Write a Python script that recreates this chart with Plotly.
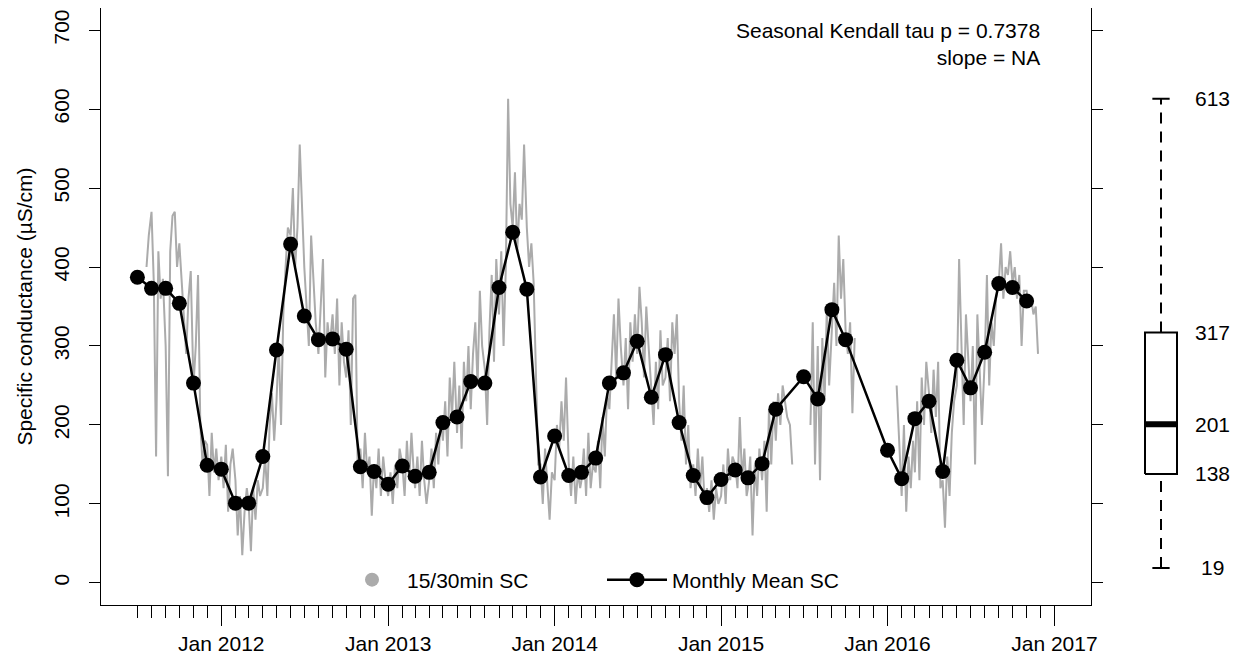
import plotly.graph_objects as go
import pandas as pd

# ---------------- data ----------------
monthly_dates = [
    "2011-07-01", "2011-08-01", "2011-09-01", "2011-10-01", "2011-11-01", "2011-12-01",
    "2012-01-01", "2012-02-01", "2012-03-01", "2012-04-01", "2012-05-01", "2012-06-01",
    "2012-07-01", "2012-08-01", "2012-09-01", "2012-10-01", "2012-11-01", "2012-12-01",
    "2013-01-01", "2013-02-01", "2013-03-01", "2013-04-01", "2013-05-01", "2013-06-01",
    "2013-07-01", "2013-08-01", "2013-09-01", "2013-10-01", "2013-11-01", "2013-12-01",
    "2014-01-01", "2014-02-01", "2014-03-01", "2014-04-01", "2014-05-01", "2014-06-01",
    "2014-07-01", "2014-08-01", "2014-09-01", "2014-10-01", "2014-11-01", "2014-12-01",
    "2015-01-01", "2015-02-01", "2015-03-01", "2015-04-01", "2015-05-01",
    "2015-07-01", "2015-08-01", "2015-09-01", "2015-10-01",
    "2016-01-01", "2016-02-01", "2016-03-01", "2016-04-01", "2016-05-01", "2016-06-01",
    "2016-07-01", "2016-08-01", "2016-09-01", "2016-10-01", "2016-11-01",
]
monthly_sc = [
    387, 373, 373, 354, 253, 149,
    144, 101, 101, 160, 295, 429,
    338, 308, 309, 296, 147, 141,
    125, 148, 135, 140, 203, 210,
    255, 253, 374, 444, 372, 134,
    186, 136, 140, 158, 253, 266,
    306, 235, 289, 203, 136, 108,
    131, 143, 133, 151, 220,
    261, 233, 346, 308,
    168, 132, 208, 230, 141, 282,
    247, 292, 379, 374, 357,
]

# 15/30-min record, read roughly every 5 days (days 1, 6, 11, 16, 21, 26 of each month)
gray_days = [1, 6, 11, 16, 21, 26]
gray_2011 = [  # Jul .. Dec 2011
    None, None, None, None, 400, 440,
    470, 380, 160, 420, 360, 385,
    300, 135, 420, 465, 470, 400,
    430, 380, 330, 290, 360, 395,
    250, 300, 390, 200, 150, 180,
    175, 110, 190, 140, 170, 130,
]
gray_2012 = [
    160, 120, 175, 90, 150, 170,
    130, 60, 110, 35, 90, 120,
    100, 40, 120, 80, 130, 110,
    120, 160, 110, 200, 240, 180,
    230, 300, 200, 340, 400, 450,
    440, 500, 400, 450, 555, 480,
    400, 350, 300, 440, 380, 330,
    290, 360, 410, 260, 330, 300,
    340, 290, 360, 250, 330, 280,
    260, 320, 200, 360, 365, 150,
    170, 120, 190, 140, 160, 85,
    150, 120, 170, 110, 160, 130,
]
gray_2013 = [
    110, 140, 100, 150, 120, 170,
    150, 110, 180, 130, 190, 140,
    120, 160, 110, 180, 130, 100,
    130, 170, 120, 190, 150, 210,
    180, 230, 160, 260, 210, 280,
    190, 250, 170, 280, 230, 300,
    220, 290, 330, 250, 370, 300,
    270, 200, 320, 390, 280, 410,
    340, 420, 300, 400, 613, 480,
    450, 520, 420, 480, 460, 555,
    450, 400, 430, 380, 250, 150,
    150, 100, 170, 120, 80, 140,
]
gray_2014 = [
    130, 200, 170, 230, 180, 260,
    150, 110, 160, 100, 140, 120,
    130, 170, 110, 190, 120, 150,
    140, 180, 120, 210, 160, 240,
    220, 280, 340, 260, 360, 300,
    250, 310, 220, 330, 280, 340,
    290, 375, 330, 260, 350, 300,
    250, 200, 280, 220, 320, 250,
    260, 310, 230, 330, 290, 340,
    230, 180, 250, 150, 200, 120,
    150, 110, 170, 120, 160, 100,
    120, 90, 130, 80, 120, 100,
]
gray_2015 = [
    110, 150, 100, 170, 130, 160,
    150, 120, 210, 130, 170, 110,
    120, 160, 60, 150, 110, 170,
    130, 180, 90, 220, 150, 230,
    180, 240, 200, 250, 230, 210,
    200, 150, None, None, None, None,
    None, None, None, 200, 330, 150,
    300, 130, 310, 230, 350, 250,
    330, 380, 300, 440, 360, 410,
    320, 290, 330, 215, 310, None,
    None, None, None, None, None, None,
    None, None, None, None, None, None,
]
gray_2016 = [  # Jan .. Nov 2016
    None, None, None, None, 250, 180,
    110, 200, 90, 160, 120, 180,
    140, 230, 130, 260, 200, 280,
    240, 190, 270, 210, 280, 120,
    130, 70, 160, 110, 190, 230,
    250, 410, 300, 200, 340, 280,
    230, 300, 150, 340, 260, 200,
    280, 390, 250, 330, 300, 360,
    380, 430, 360, 400, 390, 420,
    380, 400, 360, 390, 300, 370,
    370, 350, 360, 340, 350, 290,
]

box_stats = [19, 138, 201, 317, 613]          # min, Q1, median, Q3, max
box_labels = ["19", "138", "201", "317", "613"]
y_ticks = [0, 100, 200, 300, 400, 500, 600, 700]
x_major = ["2012-01-01", "2013-01-01", "2014-01-01", "2015-01-01", "2016-01-01", "2017-01-01"]
x_major_labels = ["Jan 2012", "Jan 2013", "Jan 2014", "Jan 2015", "Jan 2016", "Jan 2017"]
annotation_text = "Seasonal Kendall tau p = 0.7378<br>slope = NA"

# ---------------- build gray series x ----------------
gray_x, gray_y = [], []
for start, vals in [("2011-07", gray_2011), ("2012-01", gray_2012), ("2013-01", gray_2013),
                    ("2014-01", gray_2014), ("2015-01", gray_2015), ("2016-01", gray_2016)]:
    months = pd.period_range(start=start, periods=len(vals) // len(gray_days), freq="M")
    k = 0
    for m in months:
        for d in gray_days:
            gray_x.append(f"{m.year:04d}-{m.month:02d}-{d:02d}")
            gray_y.append(vals[k])
            k += 1

minor_ticks = [d.strftime("%Y-%m-%d") for d in pd.date_range("2011-07-01", "2016-12-01", freq="MS")
               if d.month != 1]

FONT = "Liberation Sans, Arial, sans-serif"
FS = 21
GRAY = "#ABABAB"

fig = go.Figure()

fig.add_trace(go.Scatter(x=gray_x, y=gray_y, mode="lines", line=dict(color=GRAY, width=2),
                         connectgaps=False, showlegend=False, hoverinfo="skip"))
fig.add_trace(go.Scatter(x=[None], y=[None], mode="markers", name="15/30min SC",
                         marker=dict(color=GRAY, size=14)))
fig.add_trace(go.Scatter(x=monthly_dates, y=monthly_sc, mode="lines+markers", name="Monthly Mean SC",
                         line=dict(color="black", width=2.5),
                         marker=dict(color="black", size=15)))

# ---------------- boxplot on side axis ----------------
mn, q1, med, q3, mx = box_stats
bw, cw = 0.5, 0.27
box_line = dict(color="black", width=2)
fig.add_trace(go.Scatter(x=[-bw, bw, bw, -bw, -bw], y=[q1, q1, q3, q3, q1], mode="lines",
                         line=box_line, xaxis="x2", yaxis="y", showlegend=False, hoverinfo="skip"))
fig.add_trace(go.Scatter(x=[-bw, bw], y=[med, med], mode="lines", line=dict(color="black", width=6),
                         xaxis="x2", yaxis="y", showlegend=False, hoverinfo="skip"))
for a, b in [(q3, mx), (mn, q1)]:
    fig.add_trace(go.Scatter(x=[0, 0], y=[a, b], mode="lines",
                             line=dict(color="black", width=2, dash="11px,8px"),
                             xaxis="x2", yaxis="y", showlegend=False, hoverinfo="skip"))
for v in [mn, mx]:
    fig.add_trace(go.Scatter(x=[-cw, cw], y=[v, v], mode="lines", line=box_line,
                             xaxis="x2", yaxis="y", showlegend=False, hoverinfo="skip"))

annotations = [dict(xref="x2", yref="y", x=1.6, y=v, text=t, showarrow=False,
                    font=dict(size=FS, color="black", family=FONT))
               for v, t in zip(box_stats, box_labels)]

# ---------------- layout (page body adds an 8px offset) ----------------
OFF = 8
W, H = 1244 - OFF, 656 - OFF
L, R_MAIN, T, B = 101 - OFF, 1091 - OFF, 8 - OFF, 605 - OFF
MR = 8
pw = W - L - MR
ph = B - T
BX0 = 1129 - OFF          # left of side-axis domain (x2 = -1)
UNIT = 32                 # px per x2 unit

annotations.append(dict(xref="paper", yref="paper", x=(1042 - OFF - L) / pw, y=(B - (17 - OFF)) / ph,
                        xanchor="right", yanchor="top", align="right", showarrow=False,
                        text=annotation_text, font=dict(size=FS, color="black", family=FONT)))

fig.update_layout(
    width=W, height=H,
    margin=dict(l=L, r=MR, t=T, b=H - B, pad=0),
    paper_bgcolor="white", plot_bgcolor="white",
    font=dict(family=FONT, size=FS, color="black"),
    showlegend=True,
    legend=dict(orientation="h", x=(337 - OFF - L) / pw, y=(B - (580 - OFF)) / ph,
                xanchor="left", yanchor="middle",
                itemwidth=60, entrywidth=190, bgcolor="rgba(0,0,0,0)",
                font=dict(size=FS, color="black", family=FONT)),
    annotations=annotations,
    xaxis=dict(domain=[0, (R_MAIN - L) / pw], type="date",
               range=["2011-04-12 05:00", "2017-03-22 05:00"],
               showline=True, linecolor="black", linewidth=1, mirror=False,
               showgrid=False, zeroline=False,
               tickmode="array", tickvals=x_major, ticktext=x_major_labels,
               ticks="outside", ticklen=20, tickwidth=1, tickcolor="black",
               minor=dict(tickmode="array", tickvals=minor_ticks, ticks="outside", ticklen=12,
                          tickwidth=1, tickcolor="black", showgrid=False),
               tickfont=dict(size=FS, color="black", family=FONT), automargin=False),
    yaxis=dict(range=[-28, 728], tickmode="array", tickvals=y_ticks,
               showline=True, linecolor="black", linewidth=1, mirror="ticks",
               showgrid=False, zeroline=False,
               ticks="outside", ticklen=11, tickwidth=1, tickcolor="black",
               tickangle=-90, ticklabelstandoff=12,
               tickfont=dict(size=FS, color="black", family=FONT),
               title=dict(text="Specific conductance (µS/cm)", standoff=11,
                          font=dict(size=FS, color="black", family=FONT)),
               automargin=False),
    xaxis2=dict(domain=[(BX0 - L) / pw, (BX0 + 3.2 * UNIT - L) / pw], range=[-1, 2.2], anchor="y",
                visible=False, showgrid=False, zeroline=False),
)

fig.write_html("out.html")
